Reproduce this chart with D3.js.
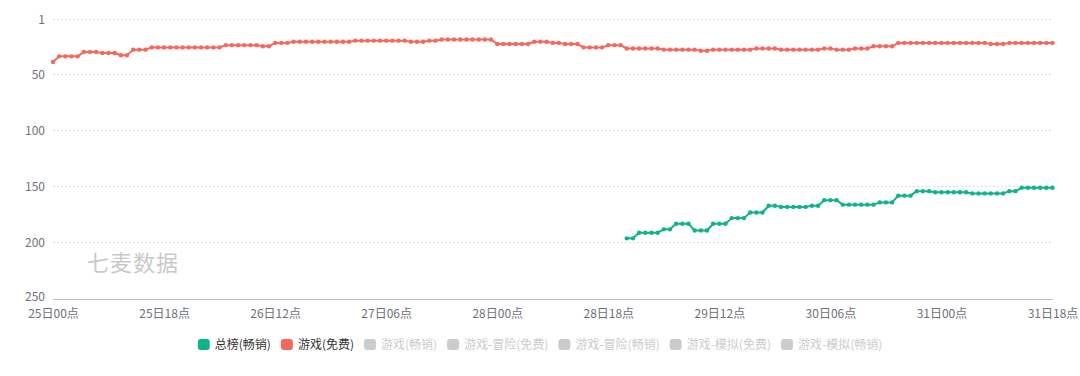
<!DOCTYPE html>
<html>
<head>
<meta charset="utf-8">
<script src="https://cdn.jsdelivr.net/npm/d3@7/dist/d3.min.js"></script>
<style>
  html, body { margin: 0; padding: 0; background: #fff; }
  svg { display: block; font-family: "Noto Sans CJK SC", "Noto Sans", sans-serif; }
</style>
</head>
<body>
<svg id="chart" width="1080" height="376"></svg>
<script>
// ---- data ----
const xTickLabels = ["25日00点","25日18点","26日12点","27日06点","28日00点","28日18点","29日12点","30日06点","31日00点","31日18点"];
const xTickHours = [0,18,36,54,72,90,108,126,144,162];
const yTicks = [1,50,100,150,200,250];

// hourly ranks, index = hours since 25日00点
const freeGameRanks = [
  39, 34,34,34,34, 30,30,30, 31,31,31, 33,33, 28,28,28,
  26,26,26,26,26,26,26,26,26,26,26,26,
  24,24,24,24,24,24, 25,25, 22,22,22,
  21,21,21,21,21,21,21,21,21,21,
  20,20,20,20,20,20,20,20,20,
  21,21,21, 20,20,
  19,19,19,19,19,19,19,19,19,
  23,23,23,23,23,23, 21,21,21, 22,22, 23,23,23,
  26,26,26,26, 24,24,24,
  27,27,27,27,27,27, 28,28,28,28,28,28, 29,29,
  28,28,28,28,28,28,28, 27,27,27,27,
  28,28,28,28,28,28,28, 27,27, 28,28,28, 27,27,27,
  25,25,25,25,
  22,22,22,22,22,22,22,22,22,22,22,22,22,22,22,
  23,23,23,
  22,22,22,22,22,22,22,22
];
const grossingStartHour = 93;
const grossingRanks = [
  196,196, 191,191,191,191, 188,188, 183,183,183, 189,189,189,
  183,183,183, 178,178,178, 173,173,173, 167,167,
  168,168,168,168,168, 167,167, 162,162,162,
  166,166,166,166,166,166, 164,164,164, 158,158,158,
  154,154,154, 155,155,155,155,155,155, 156,156,156,156,156,156,
  154,154, 151,151,151,151,151,151
];
const legendNames = ["总榜(畅销)","游戏(免费)","游戏(畅销)","游戏-冒险(免费)","游戏-冒险(畅销)","游戏-模拟(免费)","游戏-模拟(畅销)"];
const legendActive = [true,true,false,false,false,false,false];

// ---- styles ----
const GREEN = "#0fb38c", RED = "#f6685e", INACTIVE = "#cccccc";
const legendColors = [GREEN, RED, INACTIVE, INACTIVE, INACTIVE, INACTIVE, INACTIVE];

const svg = d3.select("#chart");
const x = d3.scaleLinear().domain([0,162]).range([53,1052.5]);
const y = d3.scaleLinear().domain([1,250]).range([19.3,299]);

// grid lines
svg.append("g").selectAll("line").data(yTicks.filter(d => d !== 250)).join("line")
  .attr("x1", 53).attr("x2", 1052.5)
  .attr("y1", d => y(d)).attr("y2", d => y(d))
  .attr("stroke", "#dcdcdc").attr("stroke-width", 1).attr("stroke-dasharray", "2,2")
  .attr("shape-rendering", "crispEdges");

// y axis labels
svg.append("g").selectAll("text").data(yTicks).join("text")
  .attr("x", 45).attr("y", d => y(d) - (d === 250 ? 2 : 0)).attr("dy", "0.35em")
  .attr("text-anchor", "end").attr("font-size", 12).attr("fill", "#6e7079")
  .text(d => d);

// x axis
const xAxis = d3.axisBottom(x).tickValues(xTickHours).tickSize(0).tickPadding(10)
  .tickFormat((d,i) => xTickLabels[i]);
const gx = svg.append("g").attr("transform", `translate(0,${y(250)})`).call(xAxis);
gx.select(".domain").attr("stroke", "#b8bfca").attr("stroke-width", 1);
gx.selectAll("text").attr("font-size", 12).attr("fill", "#6e7079")
  .attr("font-family", "\"Noto Sans CJK SC\", sans-serif");

// watermark
svg.append("text").attr("x", 87).attr("y", 271)
  .attr("font-size", 22).attr("fill", "#c9c9c9").attr("letter-spacing", 1)
  .text("七麦数据");

// series
const line = d3.line().x(d => x(d.h)).y(d => y(d.v));
const redData = freeGameRanks.map((v,i) => ({h: i, v}));
const greenData = grossingRanks.map((v,i) => ({h: grossingStartHour + i, v}));

function drawSeries(data, color) {
  const g = svg.append("g");
  g.append("path").datum(data).attr("d", line)
    .attr("fill", "none").attr("stroke", color).attr("stroke-width", 2)
    .attr("stroke-linejoin", "round");
  g.selectAll("circle").data(data).join("circle")
    .attr("cx", d => x(d.h)).attr("cy", d => y(d.v)).attr("r", 2.2)
    .attr("fill", color);
}
drawSeries(redData, RED);
drawSeries(greenData, GREEN);

// legend
const lg = svg.append("g");
let cx = 0;
legendNames.forEach((name, i) => {
  const it = lg.append("g");
  it.append("rect").attr("x", 0).attr("y", -6).attr("width", 12).attr("height", 11)
    .attr("rx", 3).attr("fill", legendColors[i]);
  const t = it.append("text").attr("x", 17).attr("y", 0).attr("dy", "0.35em")
    .attr("font-size", 12).attr("fill", legendActive[i] ? "#333" : "#ccc").text(name);
  const w = 17 + t.node().getComputedTextLength();
  it.attr("transform", `translate(${cx},0)`);
  cx += w + 10;
});
const total = cx - 10;
lg.attr("transform", `translate(${540 - total/2},345)`);
</script>
</body>
</html>
